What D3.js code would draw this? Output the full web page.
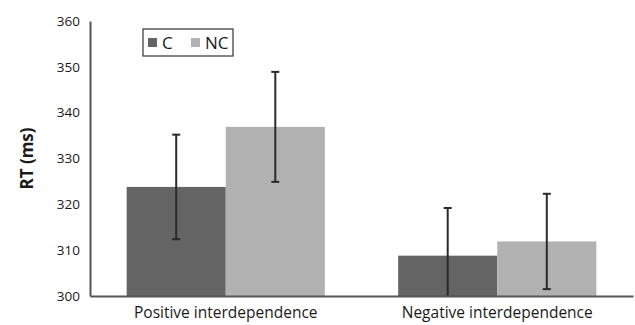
<!DOCTYPE html>
<html>
<head>
<meta charset="utf-8">
<script src="https://cdn.jsdelivr.net/npm/d3@7"></script>
<style>
  body { margin: 0; background: #fff; }
  text { font-family: "Open Sans", sans-serif; fill: #1a1a1a; }
</style>
</head>
<body>
<svg width="635" height="325"></svg>
<script>
// data
var groups = ["Positive interdependence", "Negative interdependence"];
var series = ["C", "NC"];
var colors = ["#646464", "#b1b1b1"];
var meanC = [323.8, 308.8];
var meanNC = [336.9, 311.9];
var errC = [11.4, 10.4];
var errNC = [12.0, 10.4];
var yTicks = [300, 310, 320, 330, 340, 350, 360];

var svg = d3.select("svg");
var margin = {left: 90, right: 2, top: 21, bottom: 29};
var w = 635 - margin.left - margin.right;
var h = 325 - margin.top - margin.bottom;
var g = svg.append("g").attr("transform", "translate(" + margin.left + "," + margin.top + ")");

var x0 = d3.scaleBand().domain(groups).range([0, w]).paddingInner(0.27).paddingOuter(0.135);
var x1 = d3.scaleBand().domain(series).range([0, x0.bandwidth()]);
var y = d3.scaleLinear().domain([300, 360]).range([h, 0]);

var rows = [];
groups.forEach(function(gr, i) {
    rows.push({g: gr, s: "C", v: meanC[i], e: errC[i], c: colors[0]});
    rows.push({g: gr, s: "NC", v: meanNC[i], e: errNC[i], c: colors[1]});
});

// bars
g.selectAll("rect.bar").data(rows).enter().append("rect")
    .attr("class", "bar")
    .attr("x", function(d) { return x0(d.g) + x1(d.s); })
    .attr("y", function(d) { return y(d.v); })
    .attr("width", x1.bandwidth())
    .attr("height", function(d) { return h - y(d.v); })
    .attr("fill", function(d) { return d.c; });

// error bars
var eb = g.selectAll("g.err").data(rows).enter().append("g").attr("class", "err")
    .attr("transform", function(d) { return "translate(" + (x0(d.g) + x1(d.s) + x1.bandwidth() / 2) + ",0)"; });
eb.append("line")
    .attr("y1", function(d) { return y(d.v + d.e); })
    .attr("y2", function(d) { return y(Math.max(300, d.v - d.e)); })
    .attr("stroke", "#2a2a2a").attr("stroke-width", 2);
eb.append("line")
    .attr("x1", -4).attr("x2", 4)
    .attr("y1", function(d) { return y(d.v + d.e); })
    .attr("y2", function(d) { return y(d.v + d.e); })
    .attr("stroke", "#2a2a2a").attr("stroke-width", 2);
eb.filter(function(d) { return d.v - d.e >= 300; }).append("line")
    .attr("x1", -4).attr("x2", 4)
    .attr("y1", function(d) { return y(d.v - d.e); })
    .attr("y2", function(d) { return y(d.v - d.e); })
    .attr("stroke", "#2a2a2a").attr("stroke-width", 2);

// axes
var yAxis = g.append("g").call(d3.axisLeft(y).tickValues(yTicks).tickSize(0).tickPadding(10));
yAxis.select(".domain").attr("stroke", "#555").attr("stroke-width", 2);
yAxis.selectAll("text").attr("font-size", 13.5).attr("fill", "#1a1a1a");

var xAxis = g.append("g").attr("transform", "translate(0," + h + ")")
    .call(d3.axisBottom(x0).tickSize(0).tickPadding(8));
xAxis.select(".domain").attr("stroke", "#555").attr("stroke-width", 2);
xAxis.selectAll("text").attr("font-size", 15.5).attr("fill", "#1a1a1a").attr("dy", "0.92em");

// y label
svg.append("text")
    .attr("transform", "translate(33," + (margin.top + h / 2) + ") rotate(-90)")
    .attr("text-anchor", "middle")
    .attr("font-size", 17).attr("font-weight", "bold")
    .text("RT (ms)");

// legend
var lg = svg.append("g").attr("transform", "translate(143,29)");
lg.append("rect").attr("width", 90).attr("height", 27)
    .attr("fill", "#fff").attr("stroke", "#333").attr("stroke-width", 1.2);
var lx = [5, 48];
series.forEach(function(s, i) {
    lg.append("rect").attr("x", lx[i]).attr("y", 9).attr("width", 9).attr("height", 9).attr("fill", colors[i]);
    lg.append("text").attr("x", lx[i] + 14).attr("y", 20).attr("font-size", 17).text(s);
});
</script>
</body>
</html>
